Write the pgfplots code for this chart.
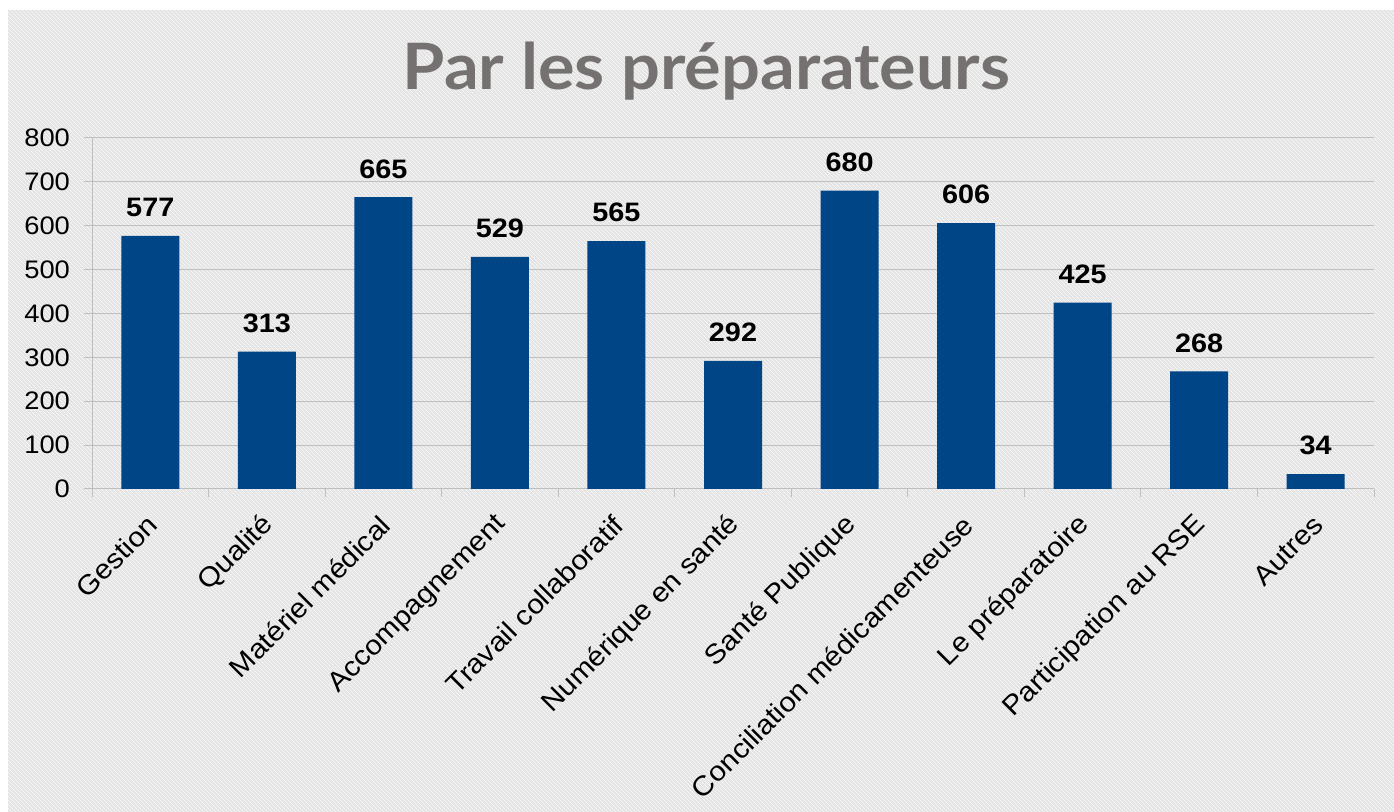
\documentclass[border=0pt]{standalone}
\usepackage{fontspec}
\setmainfont{Liberation Sans}[FakeStretch=1.08]
\newfontfamily\titlefont{Lato}[FakeStretch=1.07]
\usepackage{pgfplots}
\pgfplotsset{compat=1.18}
\usetikzlibrary{patterns}
\definecolor{barc}{RGB}{0,69,134}
\definecolor{gridc}{RGB}{191,191,191}
\definecolor{bgc}{RGB}{228,228,228}
\definecolor{titlec}{RGB}{118,113,113}

\begin{document}
\begin{tikzpicture}
\useasboundingbox (0,0) rectangle (1045.5pt,609pt);
\fill[white] (0,0) rectangle (1045.5pt,609pt);
\fill[bgc] (6pt,0) rectangle (1045.5pt,601.5pt);
\fill[pattern=north west lines, pattern color=white!80!bgc] (6pt,0) rectangle (1045.5pt,601.5pt);

\node[anchor=base, font=\titlefont\bfseries\fontsize{48}{50}\selectfont, text=titlec]
  at (529.9pt,541.5pt) {Par les préparateurs};

\begin{axis}[at={(69pt,242.25pt)}, anchor=south west, scale only axis,
  width=961.5pt, height=263.25pt,
  xmin=-0.5, xmax=10.5, ymin=0, ymax=800,
  ytick={0,100,...,800}, ymajorgrids, grid style={gridc, line width=0.75pt},
  axis x line*=bottom, axis y line*=left,
  axis line style={gridc, line width=0.75pt},
  /pgf/number format/assume math mode=true,
  tick align=outside, major tick length=6pt,
  tick style={gridc, line width=0.75pt},
  y tick label style={font=\fontsize{19}{21}\selectfont, xshift=-7pt},
  xtick={0,...,10},
  xticklabels={Gestion, Qualité, Matériel médical, Accompagnement,
    Travail collaboratif, Numérique en santé, Santé Publique,
    Conciliation médicamenteuse, Le préparatoire, Participation au RSE, Autres},
  x tick label style={font=\fontsize{20.5}{22}\selectfont, rotate=45, anchor=east, inner sep=0pt, yshift=-13.6pt, xshift=-11pt},
  major x tick style={draw=none},
  extra x ticks={-0.5,0.5,...,10.5}, extra x tick labels={},
  extra x tick style={grid=none, major x tick style={draw=gridc}},
  ybar, bar width=43.5pt,
  nodes near coords,
  nodes near coords style={font=\bfseries\fontsize{20}{22}\selectfont, text=black,
    anchor=south, inner sep=0pt, yshift=14pt},
]
\addplot[fill=barc, draw=none] coordinates {
  (0,577) (1,313) (2,665) (3,529) (4,565) (5,292)
  (6,680) (7,606) (8,425) (9,268) (10,34)};
\end{axis}
\end{tikzpicture}
\end{document}
